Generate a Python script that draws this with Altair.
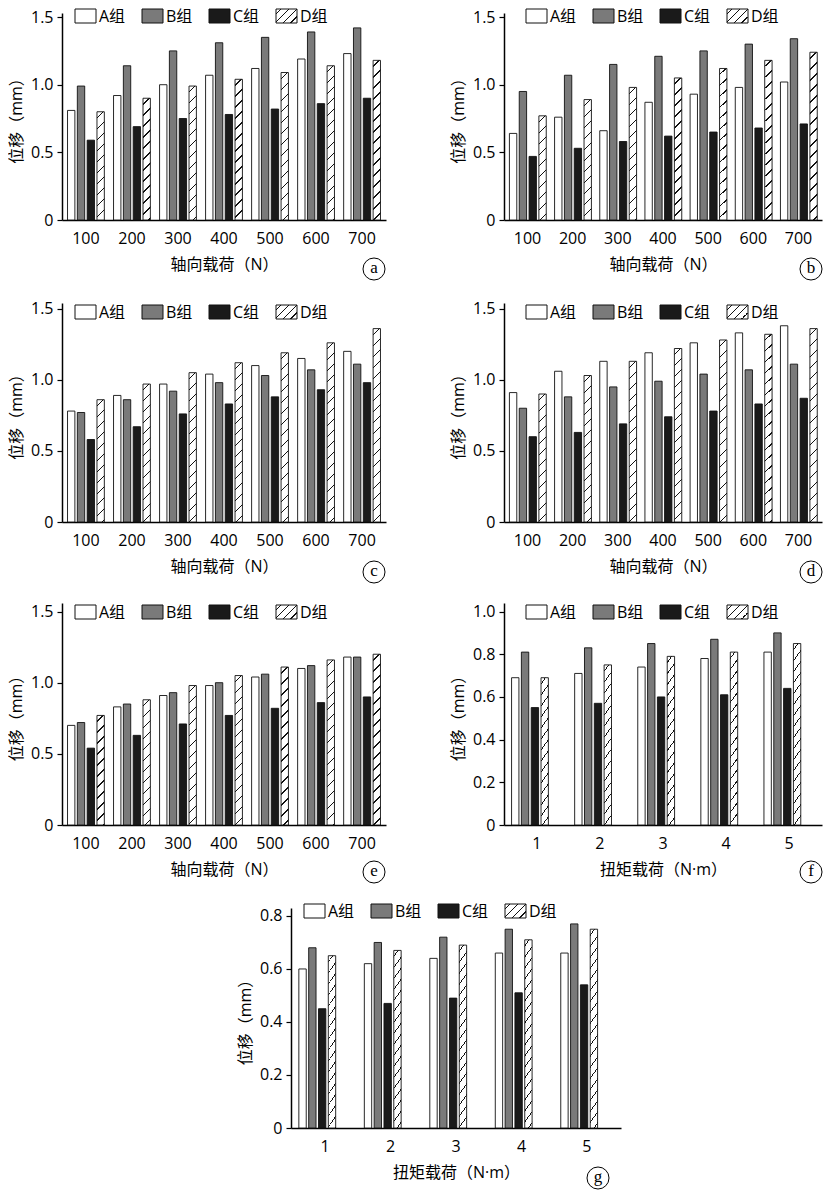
import altair as alt

loads = ["100", "200", "300", "400", "500", "600", "700"]
torques = ["1", "2", "3", "4", "5"]
groups = ["A组", "B组", "C组", "D组"]

a_A = [0.81, 0.92, 1.00, 1.07, 1.12, 1.19, 1.23]
a_B = [0.99, 1.14, 1.25, 1.31, 1.35, 1.39, 1.42]
a_C = [0.59, 0.69, 0.75, 0.78, 0.82, 0.86, 0.90]
a_D = [0.80, 0.90, 0.99, 1.04, 1.09, 1.14, 1.18]

b_A = [0.64, 0.76, 0.66, 0.87, 0.93, 0.98, 1.02]
b_B = [0.95, 1.07, 1.15, 1.21, 1.25, 1.30, 1.34]
b_C = [0.47, 0.53, 0.58, 0.62, 0.65, 0.68, 0.71]
b_D = [0.77, 0.89, 0.98, 1.05, 1.12, 1.18, 1.24]

c_A = [0.78, 0.89, 0.97, 1.04, 1.10, 1.15, 1.20]
c_B = [0.77, 0.86, 0.92, 0.98, 1.03, 1.07, 1.11]
c_C = [0.58, 0.67, 0.76, 0.83, 0.88, 0.93, 0.98]
c_D = [0.86, 0.97, 1.05, 1.12, 1.19, 1.26, 1.36]

d_A = [0.91, 1.06, 1.13, 1.19, 1.26, 1.33, 1.38]
d_B = [0.80, 0.88, 0.95, 0.99, 1.04, 1.07, 1.11]
d_C = [0.60, 0.63, 0.69, 0.74, 0.78, 0.83, 0.87]
d_D = [0.90, 1.03, 1.13, 1.22, 1.28, 1.32, 1.36]

e_A = [0.70, 0.83, 0.91, 0.98, 1.04, 1.10, 1.18]
e_B = [0.72, 0.85, 0.93, 1.00, 1.06, 1.12, 1.18]
e_C = [0.54, 0.63, 0.71, 0.77, 0.82, 0.86, 0.90]
e_D = [0.77, 0.88, 0.98, 1.05, 1.11, 1.16, 1.20]

f_A = [0.69, 0.71, 0.74, 0.78, 0.81]
f_B = [0.81, 0.83, 0.85, 0.87, 0.90]
f_C = [0.55, 0.57, 0.60, 0.61, 0.64]
f_D = [0.69, 0.75, 0.79, 0.81, 0.85]

g_A = [0.60, 0.62, 0.64, 0.66, 0.66]
g_B = [0.68, 0.70, 0.72, 0.75, 0.77]
g_C = [0.45, 0.47, 0.49, 0.51, 0.54]
g_D = [0.65, 0.67, 0.69, 0.71, 0.75]

axial_ticks = [0, 0.5, 1.0, 1.5]
f_ticks = [0, 0.2, 0.4, 0.6, 0.8, 1.0]
g_ticks = [0, 0.2, 0.4, 0.6, 0.8]

FONT = "Open Sans, Noto Sans CJK SC"
PI, PO, PI2 = 0.2, 0.12, 0.25
FILLS = {"A组": "white", "B组": "#7a7a7a", "C组": "#1a1a1a"}
LEG_STEP = 67
BOX_W, BOX_H = 21, 14


def hatch(w, h, period=11.0, lw=1.4):
    L = w + h
    d = w * w + h * h
    stops = [{"offset": 0.0, "color": "white"}]
    c = period * 0.5
    while c < L - 0.5:
        o1 = round(c / L, 5)
        o2 = round(min((c + lw) / L, 1.0), 5)
        stops += [
            {"offset": o1, "color": "white"},
            {"offset": o1, "color": "#111111"},
            {"offset": o2, "color": "#111111"},
            {"offset": o2, "color": "white"},
        ]
        c += period
    stops.append({"offset": 1.0, "color": "white"})
    return {"gradient": "linear", "x1": 0.0, "y1": 0.0,
            "x2": float(w * L / d), "y2": float(h * L / d), "stops": stops}


def one_row():
    return alt.Data(values=[{"k": 0}])


def panel(letter, cats, series, xtitle, ymax, yticks, width, height,
          leg_x, leg_y, circ_dx, circ_dy):
    n = len(cats)
    S = width / (n - PI + 2 * PO)
    B = S * (1 - PI)
    s = B / (4 - PI2)
    barw = s * (1 - PI2)
    rows = []
    for g, vals in zip(groups, series):
        for c, v in zip(cats, vals):
            if g == "D组":
                fill = hatch(barw, v / ymax * height)
            else:
                fill = FILLS[g]
            rows.append({"cat": c, "group": g, "value": v, "fill": fill})

    bars = alt.Chart(alt.Data(values=rows)).mark_bar(
        stroke="#111111", strokeWidth=0.9
    ).encode(
        x=alt.X("cat:N", sort=cats, title=xtitle,
                scale=alt.Scale(paddingInner=PI, paddingOuter=PO),
                axis=alt.Axis(labelAngle=0, ticks=False, labelPadding=10,
                              titlePadding=10, domainColor="black",
                              domainWidth=1.5, labelFont=FONT,
                              labelFontSize=16, labelColor="black",
                              titleFont=FONT, titleFontSize=16,
                              titleFontWeight="normal", titleColor="black")),
        xOffset=alt.XOffset("group:N", sort=groups,
                            scale=alt.Scale(paddingInner=PI2, paddingOuter=0)),
        y=alt.Y("value:Q", title="位移（mm）",
                scale=alt.Scale(domain=[0, ymax], nice=False, zero=True),
                axis=alt.Axis(values=yticks, grid=False,
                              labelExpr="datum.value == 0 ? '0' : format(datum.value, '.1f')",
                              domainColor="black", domainWidth=1.5,
                              tickColor="black", tickSize=5, tickWidth=1.2,
                              labelPadding=4, labelFont=FONT, labelFontSize=16,
                              labelColor="black", titleFont=FONT,
                              titleFontSize=16, titleFontWeight="normal",
                              titleColor="black", titlePadding=6)),
        fill=alt.Fill("fill:N", scale=None, legend=None),
    )

    layers = [bars]
    for i, g in enumerate(groups):
        x0 = leg_x + i * LEG_STEP
        gfill = hatch(BOX_W, BOX_H, period=8.0) if g == "D组" else FILLS[g]
        layers.append(
            alt.Chart(one_row()).mark_rect(fill=gfill, stroke="#111111",
                                           strokeWidth=1).encode(
                x=alt.value(x0), x2=alt.value(x0 + BOX_W),
                y=alt.value(leg_y), y2=alt.value(leg_y + BOX_H))
        )
        layers.append(
            alt.Chart(one_row()).mark_text(align="left", baseline="middle",
                                           font=FONT, fontSize=16,
                                           color="black").encode(
                x=alt.value(x0 + BOX_W + 3), y=alt.value(leg_y + BOX_H / 2 + 1),
                text=alt.value(g))
        )
    layers.append(
        alt.Chart(one_row()).mark_point(shape="circle", size=484, filled=False,
                                        stroke="black", strokeWidth=1,
                                        opacity=1).encode(
            x=alt.value(width - circ_dx), y=alt.value(height + circ_dy))
    )
    layers.append(
        alt.Chart(one_row()).mark_text(align="center", baseline="middle",
                                       font="Liberation Serif", fontSize=17,
                                       color="black").encode(
            x=alt.value(width - circ_dx), y=alt.value(height + circ_dy - 1),
            text=alt.value(letter))
    )
    return alt.layer(*layers).properties(width=width, height=height)


AX = "轴向载荷（N）"
TQ = "扭矩载荷（N·m）"

pa = panel("a", loads, [a_A, a_B, a_C, a_D], AX, 1.53, axial_ticks, 324, 207, 13, -4, 12, 49)
pb = panel("b", loads, [b_A, b_B, b_C, b_D], AX, 1.53, axial_ticks, 318, 207, 22, -4, 11, 49)
pc = panel("c", loads, [c_A, c_B, c_C, c_D], AX, 1.54, axial_ticks, 324, 219, 13, 2, 12, 50)
pd = panel("d", loads, [d_A, d_B, d_C, d_D], AX, 1.54, axial_ticks, 318, 219, 22, 2, 11, 50)
pe = panel("e", loads, [e_A, e_B, e_C, e_D], AX, 1.56, axial_ticks, 324, 222, 13, 2, 12, 47)
pf = panel("f", torques, [f_A, f_B, f_C, f_D], TQ, 1.04, f_ticks, 318, 222, 22, 2, 11, 47)
pg = panel("g", torques, [g_A, g_B, g_C, g_D], TQ, 0.83, g_ticks, 330, 220, 13, -4, 23, 50)

spacer = alt.Chart(one_row()).mark_point(opacity=0, size=1).encode(
    x=alt.value(0), y=alt.value(0)).properties(width=1, height=1)

row1 = alt.hconcat(pa, pb, spacing=118, bounds="flush")
row2 = alt.hconcat(pc, pd, spacing=118, bounds="flush")
row3 = alt.hconcat(pe, pf, spacing=118, bounds="flush")
row4 = alt.hconcat(spacer, pg, spacing=228, bounds="flush")

chart = alt.vconcat(row1, row2, row3, row4, spacing=18).properties(
    padding={"left": 0, "top": 0, "right": 0, "bottom": 0}
).configure_view(stroke=None)

chart.save("out.html", embed_options={"renderer": "svg", "actions": False})
